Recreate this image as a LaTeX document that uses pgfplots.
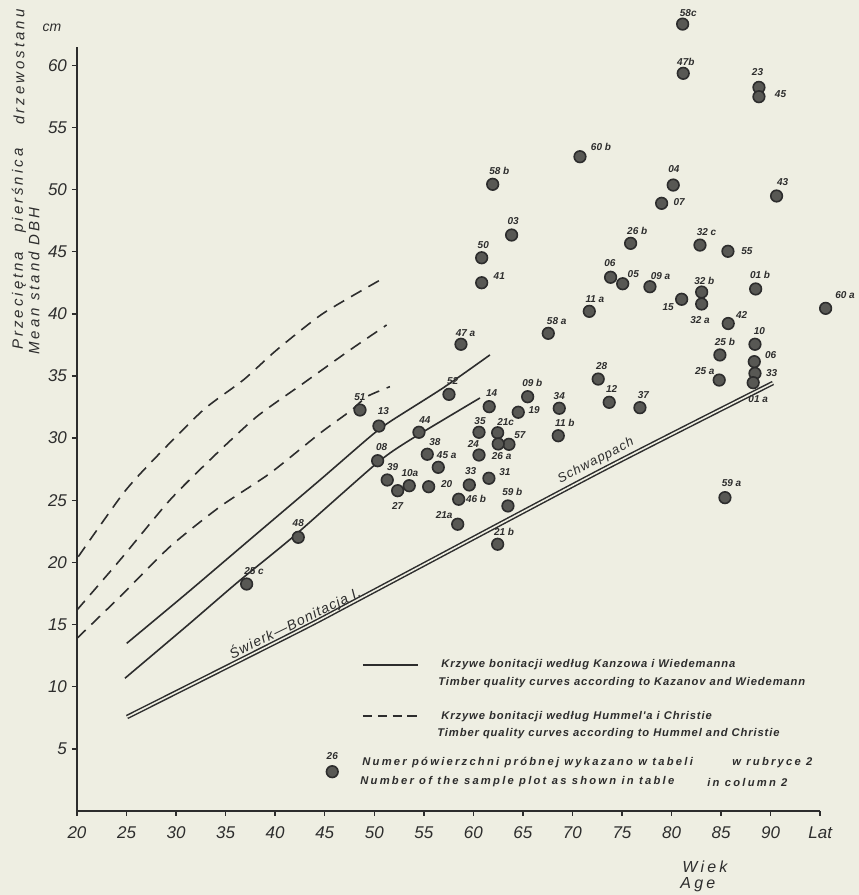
\documentclass[border=0pt]{standalone}
\usepackage{fontspec}
\setmainfont{Liberation Sans}
\newfontfamily\spaced[LetterSpace=20]{Liberation Sans}
\newfontfamily\lspaced[LetterSpace=8]{Liberation Sans}
\usepackage{pgfplots}
\pgfplotsset{compat=1.18}
\usepackage{pgfplotstable}
\usetikzlibrary{backgrounds}
\definecolor{paper}{RGB}{238,238,226}
\definecolor{ink}{RGB}{45,45,45}
\definecolor{dotfill}{RGB}{88,88,84}

\pgfplotstableread[col sep=comma]{
a,v,lab,dx,dy
61.95,50.42,58 b,3.3,6.8
63.86,46.34,03,0.8,7.0
60.84,44.51,50,0.8,6.3
60.84,42.50,41,8.8,3.3
70.76,52.64,60 b,10.5,5.0
81.12,63.31,58c,2.8,5.7
81.18,59.35,47b,1.3,5.8
88.82,58.22,23,-0.7,7.5
88.82,57.47,45,10.8,1.3
80.17,50.36,04,0.3,7.8
79.00,48.89,07,8.8,0.5
90.60,49.48,43,3.0,7.2
75.87,45.67,26 b,3.3,6.2
82.87,45.53,32 c,3.3,6.3
85.69,45.03,55,9.5,0
73.85,42.94,06,-0.3,7.0
75.07,42.42,05,5.3,5.0
77.82,42.18,09 a,5.3,5.3
83.04,41.75,32 b,1.3,5.8
83.04,40.79,32 a,-0.8,-8.0
88.49,42.00,01 b,2.2,6.8
95.55,40.44,60 a,9.7,6.8
81.02,41.17,15,-6.7,-3.7
71.70,40.20,11 a,2.8,6.3
85.72,39.22,42,6.7,4.5
88.42,37.55,10,2.2,6.8
84.88,36.69,25 b,2.5,6.3
88.35,36.15,06,8.2,3.3
88.42,35.21,33,8.3,0.3
88.24,34.46,01 a,2.5,-8.2
84.81,34.67,25 a,-7.2,4.5
72.60,34.75,28,1.7,6.7
73.71,32.88,12,1.2,6.5
76.81,32.45,37,1.7,6.3
85.39,25.21,59 a,3.3,7.2
58.75,37.55,47 a,2.3,5.5
67.56,38.43,58 a,4.2,6.2
57.54,33.52,52,1.8,6.8
48.56,32.26,51,0,6.7
50.47,30.97,13,2.2,7.5
54.51,30.47,44,3.0,6.2
61.60,32.53,14,1.2,7.0
65.48,33.33,09 b,2.3,7.0
64.53,32.08,19,8.0,1.2
68.67,32.40,34,0,6.2
68.57,30.19,11 b,3.3,6.2
60.57,30.47,35,0.5,5.8
62.45,30.43,21c,4.0,5.5
63.59,29.50,57,5.5,4.7
62.51,29.53,26 a,1.7,-6.0
60.57,28.64,24,-2.8,5.3
50.34,28.18,08,2.0,7.0
55.35,28.70,38,3.8,6.0
56.46,27.65,45 a,4.2,6.2
51.31,26.63,39,2.7,6.7
53.53,26.17,10a,0.3,6.5
52.36,25.77,27,0,-7.5
55.49,26.09,20,9.0,1.2
59.59,26.23,33,0.7,7.0
61.57,26.77,31,8.0,3.0
58.52,25.08,46 b,8.7,0
63.49,24.54,59 b,2.2,6.8
58.42,23.07,21a,-6.8,4.7
62.45,21.46,21 b,3.2,6.0
42.33,22.02,48,0,7.0
37.12,18.26,25 c,3.7,6.7
}\pts

\begin{document}
\begin{tikzpicture}
\begin{axis}[
  x=4.955pt, y=6.215pt,
  xmin=20, xmax=95, ymin=0, ymax=61.5,
  axis x line=bottom, axis y line=left,
  axis line style={-, line width=0.9pt, ink},
  xtick={20,25,...,95},
  xticklabels={20,25,30,35,40,45,50,55,60,65,70,75,80,85,90,Lat},
  ytick={5,10,...,60},
  yticklabels={5,10,15,20,25,30,35,40,45,50,55,60},
  tick align=outside, major tick length=2.5pt,
  tick style={ink, line width=0.7pt},
  ticklabel style={font=\fontsize{8.5}{9}\selectfont\itshape, text=ink},
  xticklabel style={yshift=-2pt},
  yticklabel style={xshift=1pt},
  clip=false,
]
\coordinate (BL) at (axis cs:12.23,-6.76);
\coordinate (TR) at (axis cs:98.91,65.25);

% Hummel & Christie (dashed)
\addplot[ink, line width=0.8pt, dash pattern=on 6pt off 4pt, smooth, tension=0.4] coordinates {
 (20.13,20.46) (24.67,25.56) (27.70,28.24) (32.74,32.26) (36.78,34.67) (40.15,37.09) (44.85,40.04) (50.91,42.86)};
\addplot[ink, line width=0.8pt, dash pattern=on 6pt off 4pt, smooth, tension=0.4] coordinates {
 (20.0,16.17) (24.34,20.19) (29.38,25.02) (33.75,28.5) (38.13,31.72) (42.84,34.41) (47.55,37.09) (51.25,39.1)};
\addplot[ink, line width=0.8pt, dash pattern=on 6pt off 4pt, smooth, tension=0.4] coordinates {
 (20.0,13.89) (24.34,17.24) (29.38,21.26) (34.43,24.48) (39.48,27.17) (44.52,30.39) (47.72,32.26) (49.23,33.33) (51.58,34.14)};

% Kanzow & Wiedemann (solid)
\addplot[ink, line width=0.8pt, smooth, tension=0.4] coordinates {
 (25.02,13.49) (31.07,17.51) (37.79,22.07) (44.52,26.63) (49.57,30.11) (51.58,31.32) (56.93,34.03) (61.67,36.69)};
\addplot[ink, line width=0.8pt, smooth, tension=0.4] coordinates {
 (24.84,10.68) (31.07,14.88) (36.28,18.45) (41.83,22.07) (50.24,27.97) (53.6,29.85) (60.67,33.23)};

% Schwappach (double line)
\addplot[ink, line width=0.75pt, double=paper, double distance=0.8pt, smooth, tension=0.4] coordinates {
 (25.05,7.56) (42.5,14.56) (48.25,16.97) (72.78,27.35) (90.23,34.43)};

% sample plots
\addplot[only marks, mark=*, mark size=2.9pt,
  mark options={fill=dotfill, draw=ink, line width=0.8pt},
  point meta=explicit symbolic,
  visualization depends on={\thisrow{dx}\as\mydx},
  visualization depends on={\thisrow{dy}\as\mydy},
  nodes near coords,
  every node near coord/.append style={anchor=center, xshift=\mydx pt, yshift=\mydy pt,
     font=\fontsize{5}{5}\selectfont\bfseries\itshape, text=ink, inner sep=0pt},
] table[x=a, y=v, meta=lab]{\pts};

% legend samples
\addplot[ink, line width=0.8pt] coordinates {(48.86,11.75) (54.41,11.75)};
\addplot[ink, line width=0.8pt, dash pattern=on 4.6pt off 2.8pt] coordinates {(48.86,7.64) (54.41,7.64)};
\addplot[only marks, mark=*, mark size=2.9pt,
  mark options={fill=dotfill, draw=ink, line width=0.8pt},
  point meta=explicit symbolic, nodes near coords,
  every node near coord/.append style={anchor=center, yshift=8pt,
     font=\fontsize{5}{5}\selectfont\bfseries\itshape, text=ink, inner sep=0pt},
] coordinates {(45.76,3.16) [26]};

% legend texts
\begin{scope}[every node/.style={anchor=west, inner sep=0pt, text=ink, font=\lspaced\fontsize{5.6}{6}\selectfont\bfseries\itshape}]
\node at (axis cs:56.73,11.75) {Krzywe bonitacji według Kanzowa i Wiedemanna};
\node at (axis cs:56.43,10.30) {Timber quality curves according to Kazanov and Wiedemann};
\node at (axis cs:56.73,7.56) {Krzywe bonitacji według Hummel'a i Christie};
\node at (axis cs:56.33,6.19) {Timber quality curves according to Hummel and Christie};
\end{scope}
\begin{scope}[every node/.style={anchor=west, inner sep=0pt, text=ink, font=\spaced\fontsize{5.6}{6}\selectfont\bfseries\itshape}]
\node at (axis cs:48.76,3.86) {Numer pówierzchni próbnej wykazano w tabeli};
\node at (axis cs:86.09,3.86) {w rubryce 2};
\node at (axis cs:48.56,2.33) {Number of the sample plot as shown in table};
\node at (axis cs:83.57,2.33) {in column 2};
\end{scope}

% curve names
\node[rotate=27.5, text=ink, inner sep=0pt, font=\lspaced\fontsize{6.5}{7}\selectfont\itshape] at (axis cs:72.37,28.16) {Schwappach};
\node[rotate=26, text=ink, inner sep=0pt, font=\lspaced\fontsize{7}{8}\selectfont\itshape] at (axis cs:42.0,15.12) {Świerk—Bonitacja I.};

% axis titles
\begin{scope}[every node/.style={rotate=90, anchor=west, inner sep=0pt, text=ink, font=\spaced\fontsize{7.5}{8}\selectfont\itshape}]
\node at (axis cs:14.15,37.09) {Przeciętna};
\node at (axis cs:14.15,46.5) {pierśnica};
\node at (axis cs:14.15,55.19) {drzewostanu};
\node at (axis cs:15.66,36.69) {Mean stand DBH};
\end{scope}
\node[text=ink, inner sep=0pt, font=\fontsize{7}{8}\selectfont\itshape] at (axis cs:17.48,63.0) {cm};
\node[text=ink, inner sep=0pt, font=\spaced\fontsize{8}{9}\selectfont\itshape] at (axis cs:83.37,-4.5) {Wiek};
\node[text=ink, inner sep=0pt, font=\spaced\fontsize{8}{9}\selectfont\itshape] at (axis cs:82.66,-5.95) {Age};
\end{axis}
\begin{scope}[on background layer]
\fill[paper] (BL) rectangle (TR);
\end{scope}
\pgfresetboundingbox
\useasboundingbox (BL) rectangle (TR);
\end{tikzpicture}
\end{document}
